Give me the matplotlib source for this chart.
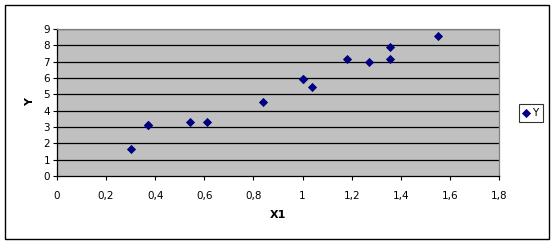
import matplotlib
matplotlib.use("Agg")
import matplotlib.pyplot as plt
from matplotlib.patches import Rectangle

# data
x1 = [0.30, 0.37, 0.372, 0.54, 0.61, 0.84, 1.00, 1.003, 1.04, 1.18, 1.27, 1.355, 1.355, 1.55]
y = [1.63, 3.10, 3.12, 3.29, 3.29, 4.51, 5.94, 5.92, 5.45, 7.18, 7.00, 7.88, 7.18, 8.55]

x_ticks = [0, 0.2, 0.4, 0.6, 0.8, 1.0, 1.2, 1.4, 1.6, 1.8]
x_labels = ["0", "0,2", "0,4", "0,6", "0,8", "1", "1,2", "1,4", "1,6", "1,8"]
y_ticks = list(range(0, 10))

W, H = 556, 244
fig = plt.figure(figsize=(W / 100, H / 100), dpi=100)
fig.patch.set_facecolor("white")

# outer chart frame
fig.patches.append(Rectangle((5 / W, 5 / H), 544 / W, 234 / H, transform=fig.transFigure,
                             fill=False, edgecolor="black", linewidth=1))

ax = fig.add_axes([57 / W, (H - 176) / H, 442 / W, 147 / H])
ax.set_facecolor("#C0C0C0")

for v in y_ticks[1:]:
    ax.axhline(v, color="black", linewidth=0.9, zorder=1)

ax.scatter(x1, y, marker="D", s=22, color="#000080", zorder=3, label="Y", linewidths=0)

ax.set_xlim(0, 1.8)
ax.set_ylim(0, 9)
ax.set_xticks(x_ticks)
ax.set_xticklabels(x_labels)
ax.set_yticks(y_ticks)
ax.tick_params(labelsize=7.5, length=3, width=0.8, color="black", pad=8)
ax.tick_params(axis="y", pad=2)

for side in ["top", "right"]:
    ax.spines[side].set_color("#808080")
for side in ["left", "bottom"]:
    ax.spines[side].set_color("black")
for s in ax.spines.values():
    s.set_linewidth(0.9)

ax.set_xlabel("X1", fontsize=8, fontweight="bold", labelpad=6)
ax.set_ylabel("Y", fontsize=8, fontweight="bold", labelpad=6)

leg = fig.legend(loc="center left", bbox_to_anchor=(519 / W, (H - 113) / H),
                 fontsize=7.5, frameon=True, fancybox=False, handlelength=0.6,
                 handletextpad=0.3, borderpad=0.4, borderaxespad=0)
leg.get_frame().set_edgecolor("black")
leg.get_frame().set_linewidth(0.8)

fig.savefig("out.png", dpi=100)
